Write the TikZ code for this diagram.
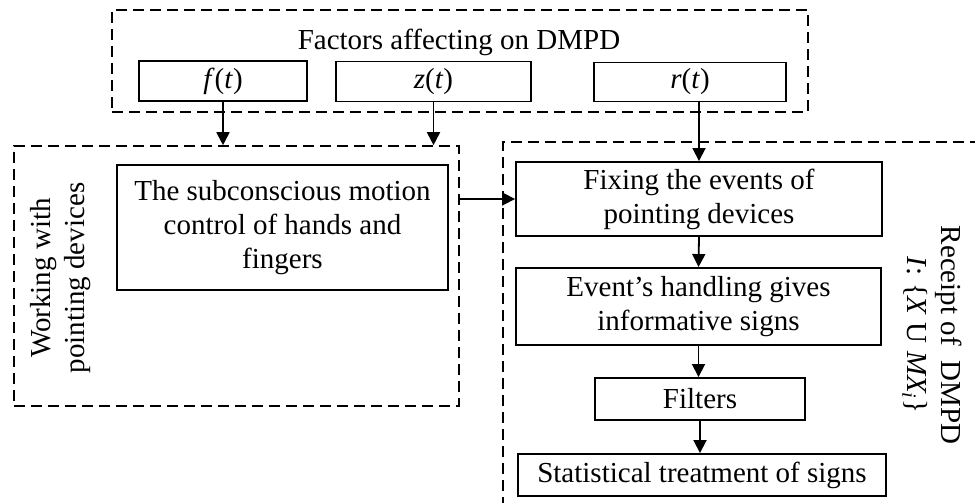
\documentclass[tikz,border=0pt]{standalone}
\usepackage{fontspec}
\setmainfont{Liberation Serif}
\usetikzlibrary{arrows.meta}
\begin{document}
\begin{tikzpicture}[x=1pt,y=-1pt,
  txt/.style={font=\fontsize{29}{34}\selectfont, align=center, inner sep=0pt},
  box/.style={txt, draw, line width=1.9pt},
  dbox/.style={draw, line width=1.6pt, dash pattern=on 11pt off 6pt, inner sep=0pt},
  arr/.style={line width=1.8pt, -{Triangle[length=13pt,width=13pt]}}]
\useasboundingbox (0,0) rectangle (975,503);

% top group
\node[dbox, minimum width=696pt, minimum height=102pt] (factors) at (460,61) {};
\node[txt] (ftitle) at (459,42) {Factors affecting on DMPD};
\node[box, minimum width=168pt, minimum height=40pt] (f) at (223,81) {\textit{f}(\textit{t})};
\node[box, minimum width=195pt, minimum height=40pt] (z) at (433.5,81.5) {\textit{z}(\textit{t})};
\node[box, minimum width=192pt, minimum height=39pt] (r) at (690,82) {\textit{r}(\textit{t})};

% left group
\node[dbox, minimum width=445pt, minimum height=260pt] (work) at (236.5,276) {};
\node[txt, rotate=90] (worklbl) at (61,278) {Working with\\pointing devices};
\node[box, minimum width=331pt, minimum height=125pt] (motion) at (282.5,227.5)
  {The subconscious motion\\control of hands and\\fingers};

% right group
\begin{scope}
\clip (0,0) rectangle (975,503);
\node[dbox, minimum width=487pt, minimum height=388pt] (receipt) at (746.5,336) {};
\end{scope}
\node[txt, rotate=-90] (receiptlbl) at (932,335)
  {Receipt of~ DMPD\\\textit{I}: \{\textit{X} U \textit{MX\textsubscript{i}}\}};
\node[box, minimum width=366pt, minimum height=74pt] (fix) at (699,199)
  {Fixing the events of\\pointing devices};
\node[box, minimum width=365pt, minimum height=77pt] (event) at (698.5,306.5)
  {Event’s handling gives\\informative signs};
\node[box, minimum width=210pt, minimum height=42pt] (filters) at (700,399) {Filters};
\node[box, minimum width=368pt, minimum height=42pt] (stat) at (702,475)
  {Statistical treatment of signs};

% connectors
\draw[arr] (f.south) -- (f.south |- work.north);
\draw[arr] (z.south) -- (z.south |- work.north);
\draw[arr] (fix.north |- r.south) -- (fix.north);
\draw[arr] (work.east |- fix.west) -- (fix.west);
\draw[arr] (fix.south) -- (event.north);
\draw[arr] (event.south) -- (event.south |- filters.north);
\draw[arr] (filters.south) -- (filters.south |- stat.north);
\end{tikzpicture}
\end{document}
